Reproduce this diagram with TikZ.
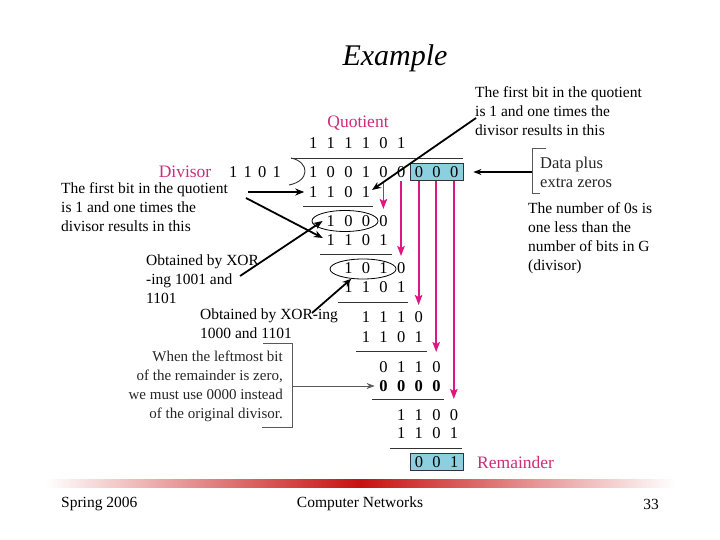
\documentclass[tikz,border=0pt]{standalone}
\usepackage{fontspec}
\setmainfont{Liberation Serif}
\usetikzlibrary{arrows.meta,shapes.geometric,calc}
\definecolor{mag}{RGB}{222,22,128}
\definecolor{labc}{RGB}{204,45,122}
\definecolor{boxc}{RGB}{140,208,224}
\newcommand\dg[1]{\makebox[17.6pt]{#1}}
\newcommand\dv[1]{\makebox[14.5pt]{#1}}
\begin{document}
\begin{tikzpicture}[x=1pt,y=-1pt,
  ann/.style={font=\fontsize{15.5}{19}\selectfont, inner sep=0pt, align=left},
  dig/.style={font=\fontsize{16.5}{18}\selectfont, inner sep=0pt, anchor=west},
  dbox/.style={dig, draw=black!80, fill=boxc, line width=0.8pt, minimum height=17pt},
  lab/.style={font=\fontsize{17.5}{19}\selectfont, text=labc, inner sep=0pt},
  barrow/.style={line width=1.8pt, -{Stealth[length=9pt,width=7pt]}},
  marrow/.style={draw=mag, line width=1.8pt, -{Stealth[length=10pt,width=7.5pt,inset=2pt]}},
  rulel/.style={draw=black!80, line width=0.9pt},
  oval/.style={draw, ellipse, line width=0.8pt, inner sep=0pt},
  grayb/.style={draw=black!65, line width=0.8pt},
]
\useasboundingbox (0,0) rectangle (720,540);

% title
\node[font=\fontsize{30}{34}\selectfont\itshape, inner sep=0pt] (title) at (395,58) {Example};

% labels
\node[lab] (ql) at (358,123) {Quotient};
\node[lab] (dl) at (185,172) {Divisor};
\node[lab, anchor=west] (rl) at (477,463) {Remainder};
\node[dig, anchor=center] (dvs) at (255,172) {\dv1\dv1\dv0\dv1};

% digit rows
\node[dig] (q)   at (304.2,143) {\dg1\dg1\dg1\dg1\dg0\dg1};
\node[dig] (r0)  at (304.2,172) {\dg1\dg0\dg0\dg1\dg0\dg0};
\node[dbox] (bx) at (409.8,172) {\dg0\dg0\dg0};
\node[dig] (r1)  at (304.2,192) {\dg1\dg1\dg0\dg1};
\node[dig] (r2)  at (321.8,221) {\dg1\dg0\dg0\dg0};
\node[dig] (r3)  at (321.8,240) {\dg1\dg1\dg0\dg1};
\node[dig] (r4)  at (339.4,268) {\dg1\dg0\dg1\dg0};
\node[dig] (r5)  at (339.4,287) {\dg1\dg1\dg0\dg1};
\node[dig] (r6)  at (357,317) {\dg1\dg1\dg1\dg0};
\node[dig] (r7)  at (357,337) {\dg1\dg1\dg0\dg1};
\node[dig] (r8)  at (374.6,367) {\dg0\dg1\dg1\dg0};
\node[dig, font=\fontsize{16.5}{18}\selectfont\bfseries] (r9) at (374.6,386) {\dg0\dg0\dg0\dg0};
\node[dig] (r10) at (392.2,415) {\dg1\dg1\dg0\dg0};
\node[dig] (r11) at (392.2,433) {\dg1\dg1\dg0\dg1};
\node[dbox] (rb) at (409.8,462) {\dg0\dg0\dg1};

% division bracket
\draw[rulel] (291,158) .. controls (310,162) and (310,181) .. (289,185);
\draw[rulel] (291,158) -- (463,158);

% subtraction rules
\draw[rulel] (303,206) -- (373,206);
\draw[rulel] (320,254) -- (392,254);
\draw[rulel] (338,302) -- (408,302);
\draw[rulel] (356,351) -- (427,351);
\draw[rulel] (372,399) -- (444,399);
\draw[rulel] (390,448) -- (462,448);

% ellipses
\node[oval, minimum width=66pt, minimum height=21pt] (e1) at (345,221) {};
\node[oval, minimum width=66pt, minimum height=20pt] (e2) at (363,269) {};

% magenta bring-down arrows
\draw[marrow] (383.4,181) -- (383.4,209);
\draw[marrow] (401,181) -- (401,256);
\draw[marrow] (418.6,181) -- (418.6,305);
\draw[marrow] (436.2,181) -- (436.2,352);
\draw[marrow] (453.8,181) -- (453.8,399);

% annotations
\node[ann, anchor=west] (tr) at (475,111) {The first bit in the quotient\\is 1 and one times the\\divisor results in this};
\node[ann, anchor=west] (tl) at (61,207) {The first bit in the quotient\\is 1 and one times the\\divisor results in this};
\node[ann, anchor=west] (ob1) at (146,279) {Obtained by XOR\\-ing 1001 and\\1101};
\node[ann, anchor=west] (ob2) at (200,323.5) {Obtained by XOR-ing\\1000 and 1101};
\node[ann, anchor=west] (nz) at (528,238) {The number of 0s is\\one less than the\\number of bits in G\\(divisor)};
\node[font=\fontsize{15}{19}\selectfont, inner sep=0pt, align=right, anchor=east, text=black!85] (wl) at (283,386) {When the leftmost bit\\of the remainder is zero,\\we must use 0000 instead\\of the original divisor.};
\node[font=\fontsize{16.5}{19}\selectfont, inner sep=0pt, align=left, anchor=west, text=black!85] (dp) at (540,172.5) {Data plus\\extra zeros};

% black arrows
\coordinate (t1) at (248,192);
\coordinate (t2) at (246,198);
\coordinate (t3) at (240,276);
\coordinate (t4) at (312,313);
\coordinate (t5) at (476,118);
\draw[barrow] (t1) -- (r1.west);
\draw[barrow] (t2) -- ($(r3.west)+(1,-2)$);
\draw[barrow] (t3) -- ($(e1.west)+(11,0)$);
\draw[barrow] (t4) -- (e2.220);
\draw[barrow] (t5) -- ($(r1.east)+(-3,-2)$);

% data plus bracket and arrow
\coordinate (dpa) at (532,172);
\draw[grayb] (546,148) -- (532,148) -- (532,193) -- (540,193);
\draw[line width=1.2pt, -{Stealth[length=8pt,width=6pt]}] (dpa) -- ($(bx.east)+(10,0)$);

% leftmost bracket and arrow
\coordinate (wla) at (292,386);
\draw[grayb] (263,343) -- (292,343) -- (292,427) -- (262,427);
\draw[grayb, -{Stealth[length=8pt,width=6pt]}] (wla) -- (r9.west);

% footer
\shade[left color=white, right color=white, middle color={rgb,255:red,200;green,16;blue,16}] (45,479) rectangle (675,487);
\node[font=\fontsize{15.5}{17}\selectfont, inner sep=0pt, anchor=west] (f1) at (61,504) {Spring 2006};
\node[font=\fontsize{15.5}{17}\selectfont, inner sep=0pt] (f2) at (360,504) {Computer Networks};
\node[font=\fontsize{15.5}{17}\selectfont, inner sep=0pt, anchor=east] (f3) at (659,504) {33};
\end{tikzpicture}
\end{document}
